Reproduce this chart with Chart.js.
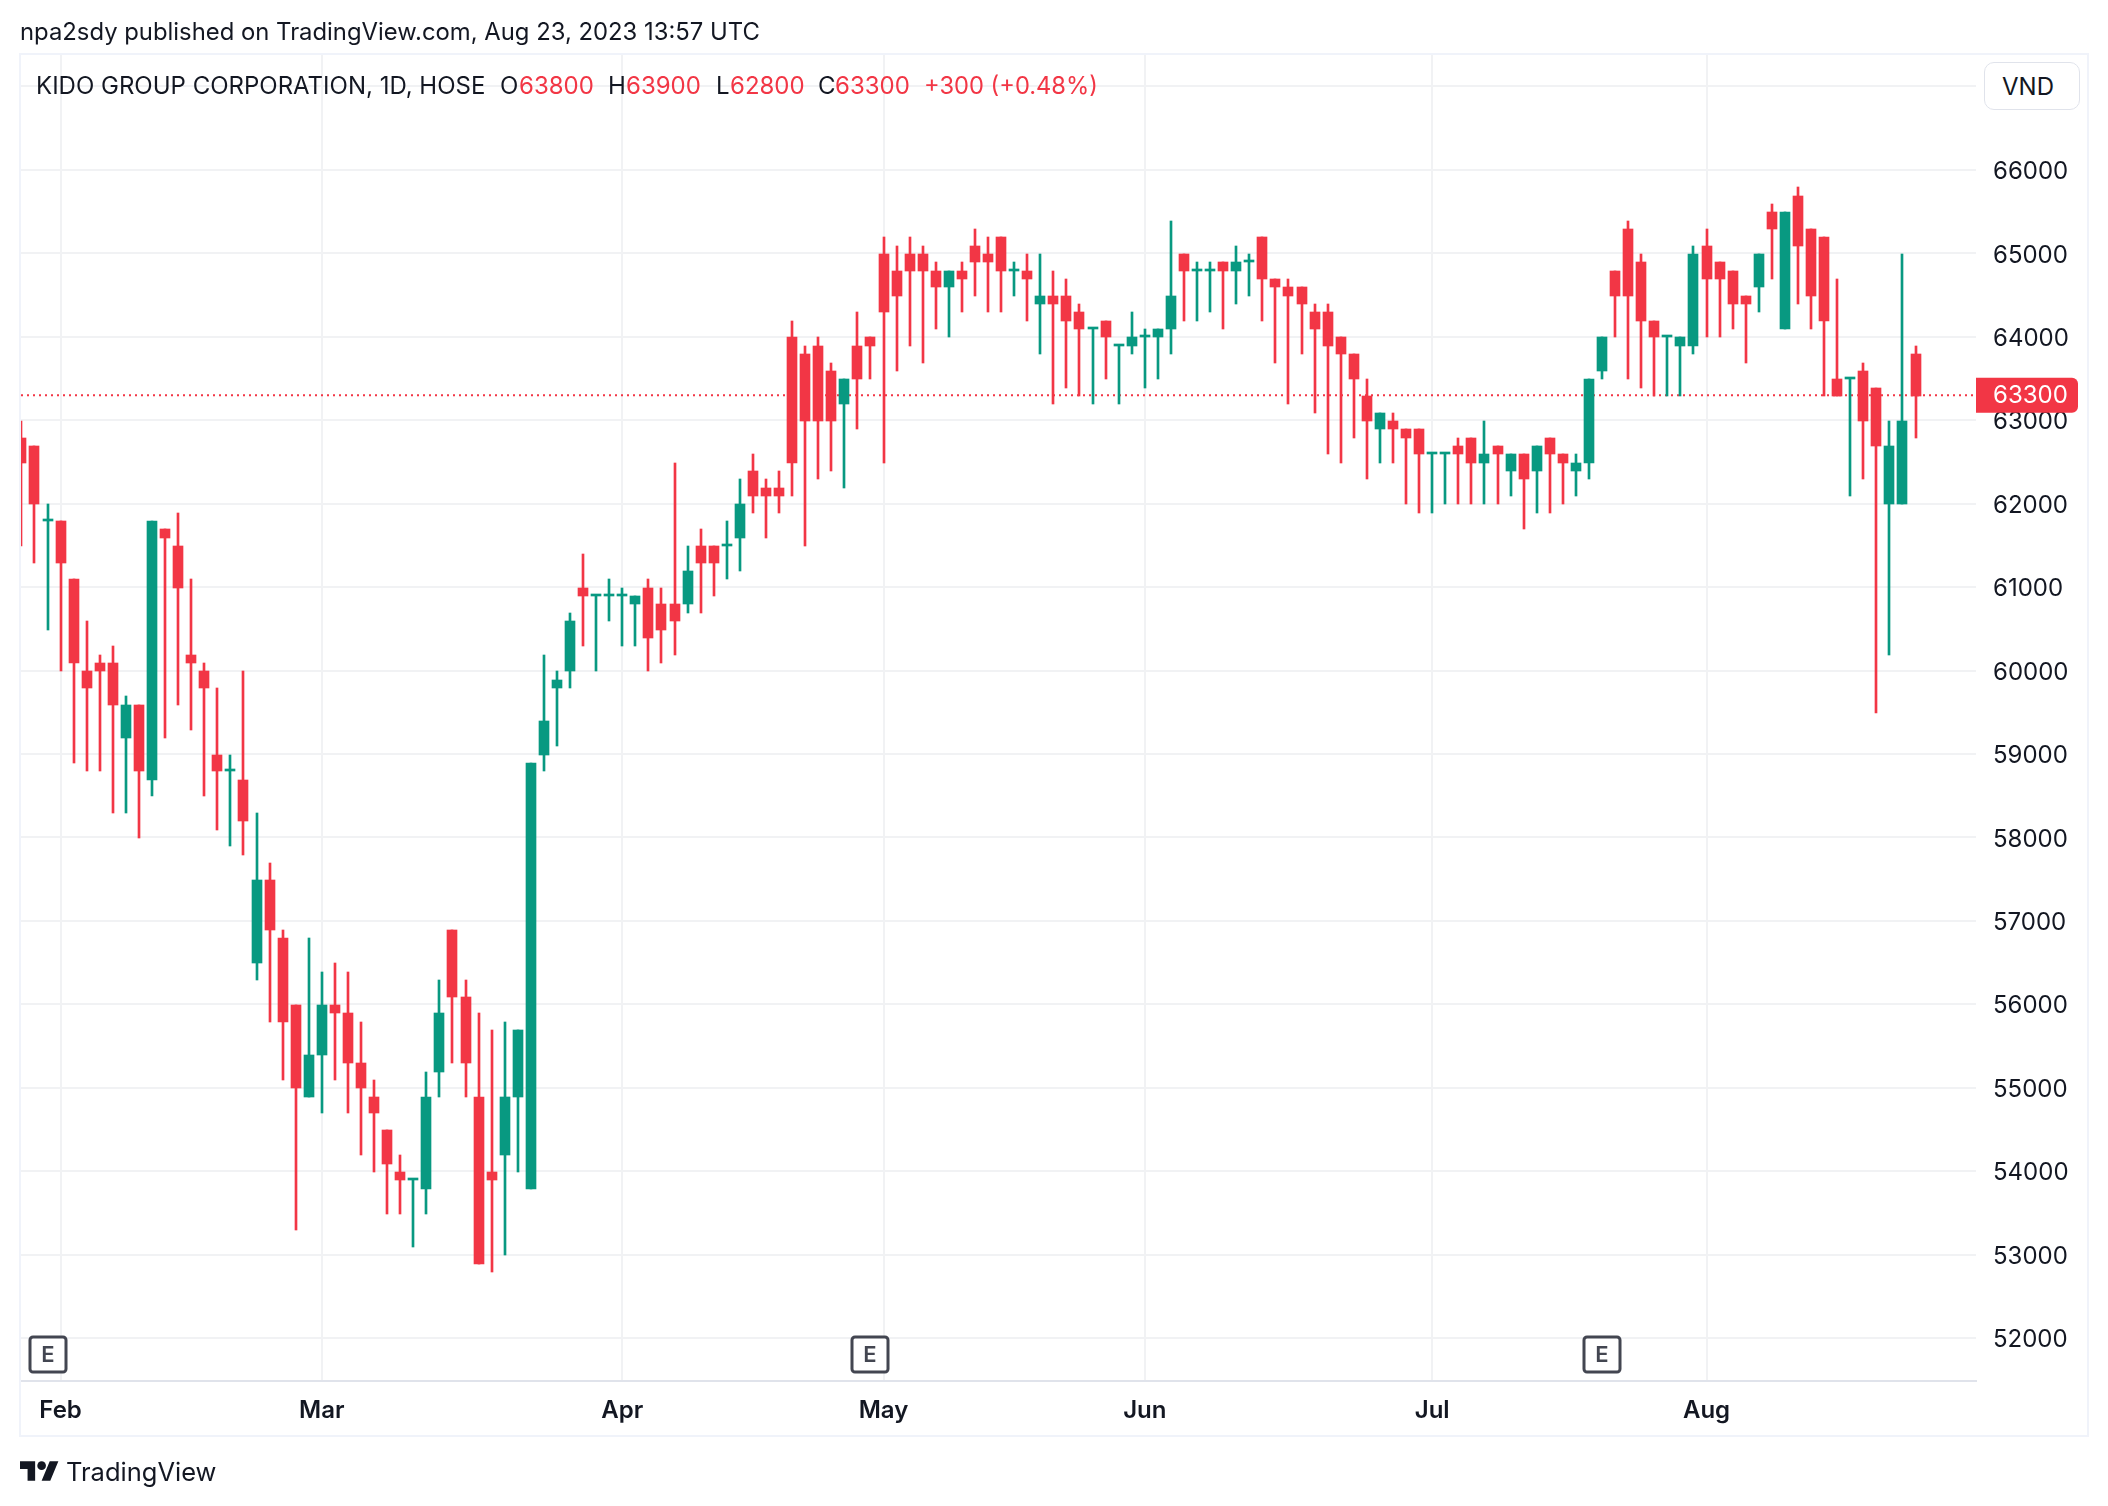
<!DOCTYPE html>
<html><head><meta charset="utf-8"><title>KIDO GROUP CORPORATION</title>
<script src="https://cdn.jsdelivr.net/npm/chart.js@4"></script>
<style>
html,body{margin:0;padding:0;background:#fff;width:2108px;height:1506px;overflow:hidden}
body{font-family:Inter,"Noto Sans",sans-serif;color:#131722;position:relative}
#c{position:absolute;left:0;top:0}
.frame{position:absolute;left:19px;top:53px;width:2066px;height:1380px;border:2px solid #F0F3FA;pointer-events:none}
.t{position:absolute;white-space:pre;font-size:24px;line-height:30px}
.r{color:#F23645}
.vnd{position:absolute;left:1984px;top:62px;width:94px;height:46px;border:1px solid #E0E3EB;border-radius:10px;background:#fff;text-align:center;font-size:24px;line-height:47px;text-indent:-8px}
.logo{position:absolute;left:20px;top:1457px}
</style></head><body>
<canvas id="c" width="2108" height="1506"></canvas>
<div class="frame"></div>
<div class="t" style="left:20px;top:17px;font-size:23.85px">npa2sdy published on TradingView.com, Aug 23, 2023 13:57 UTC</div>
<div class="t" style="left:36px;top:71px">KIDO GROUP CORPORATION, 1D, HOSE</div>
<div class="t" style="left:500px;top:71px">O</div><div class="t r" style="left:519px;top:71px">63800</div>
<div class="t" style="left:608px;top:71px">H</div><div class="t r" style="left:626px;top:71px">63900</div>
<div class="t" style="left:716px;top:71px">L</div><div class="t r" style="left:730px;top:71px">62800</div>
<div class="t" style="left:818px;top:71px">C</div><div class="t r" style="left:835px;top:71px">63300</div>
<div class="t r" style="left:924px;top:71px;font-size:23.7px">+300 (+0.48%)</div>
<div class="vnd">VND</div>
<svg class="logo" width="40" height="32" viewBox="0 0 37 29.6"><path fill="#131722" d="M14 22H7V11H0V4h14v18zM28 22h-8l7.5-18h8L28 22z"/><circle fill="#131722" cx="20" cy="8" r="4"/></svg>
<div class="t" style="left:66px;top:1457px;font-size:25.5px">TradingView</div>
<script>
const opens=[62800,62700,61800,61800,61100,60000,60100,60100,59200,59600,58700,61700,61500,60200,60000,59000,58800,58700,56500,57500,56800,56000,54900,55400,56000,55900,55300,54900,54500,54000,53900,53800,55200,56900,56100,54900,54000,54200,54900,53800,59000,59800,60000,61000,60900,60900,60900,60800,61000,60800,60800,60800,61500,61500,61500,61600,62400,62200,62200,64000,63800,63900,63600,63200,63900,64000,65000,64800,65000,65000,64800,64600,64800,65100,65000,65200,64800,64800,64400,64500,64500,64300,64100,64200,63900,63900,64000,64000,64100,65000,64800,64800,64900,64800,64900,65200,64700,64600,64600,64300,64300,64000,63800,63300,62900,63000,62900,62900,62600,62600,62700,62800,62500,62700,62400,62600,62400,62800,62600,62400,62500,63600,64800,65300,64900,64200,64000,63900,63900,65100,64900,64800,64500,64600,65500,64100,65700,65300,65200,63500,63500,63600,63400,62000,62000,63800];
const highs=[63000,62700,62000,61800,61100,60600,60200,60300,59700,59600,61800,61700,61900,61100,60100,59800,59000,60000,58300,57700,56900,56000,56800,56400,56500,56400,55800,55100,54500,54200,53900,55200,56300,56900,56300,55900,55700,55800,55700,58900,60200,60000,60700,61400,60900,61100,61000,60900,61100,61000,62500,61500,61700,61500,61800,62300,62600,62300,62400,64200,63900,64000,63700,63500,64300,64000,65200,65100,65200,65100,64900,64800,64900,65300,65200,65200,64900,65000,65000,64800,64700,64400,64100,64200,63900,64300,64100,64100,65400,65000,64900,64900,64900,65100,65000,65200,64700,64700,64600,64400,64400,64000,63800,63500,63100,63100,62900,62900,62600,62600,62800,62800,63000,62700,62600,62600,62700,62800,62600,62600,63500,64000,64800,65400,65000,64200,64000,64000,65100,65300,64900,64800,64500,65000,65600,65500,65800,65300,65200,64700,63500,63700,63400,63000,65000,63900];
const lows=[61500,61300,60500,60000,58900,58800,58800,58300,58300,58000,58500,59200,59600,59300,58500,58100,57900,57800,56300,55800,55100,53300,54900,54700,55100,54700,54200,54000,53500,53500,53100,53500,54900,55300,54900,52900,52800,53000,54000,53800,58800,59100,59800,60300,60000,60600,60300,60300,60000,60100,60200,60700,60700,60900,61100,61200,61900,61600,61900,62100,61500,62300,62400,62200,62900,63500,62500,63600,63900,63700,64100,64000,64300,64500,64300,64300,64500,64200,63800,63200,63400,63300,63200,63500,63200,63800,63400,63500,63800,64200,64200,64300,64100,64400,64500,64200,63700,63200,63800,63100,62600,62500,62800,62300,62500,62500,62000,61900,61900,62000,62000,62000,62000,62000,62100,61700,61900,61900,62000,62100,62300,63500,64000,63500,63400,63300,63300,63300,63800,64000,64000,64100,63700,64300,64700,64100,64400,64100,63300,63300,62100,62300,59500,60200,62000,62800];
const closes=[62500,62000,61800,61300,60100,59800,60000,59600,59600,58800,61800,61600,61000,60100,59800,58800,58800,58200,57500,56900,55800,55000,55400,56000,55900,55300,55000,54700,54100,53900,53900,54900,55900,56100,55300,52900,53900,54900,55700,58900,59400,59900,60600,60900,60900,60900,60900,60900,60400,60500,60600,61200,61300,61300,61500,62000,62100,62100,62100,62500,63000,63000,63000,63500,63500,63900,64300,64500,64800,64800,64600,64800,64700,64900,64900,64800,64800,64700,64500,64400,64200,64100,64100,64000,63900,64000,64000,64100,64500,64800,64800,64800,64800,64900,64900,64700,64600,64500,64400,64100,63900,63800,63500,63000,63100,62900,62800,62600,62600,62600,62600,62500,62600,62600,62600,62300,62700,62600,62500,62500,63500,64000,64500,64500,64200,64000,64000,64000,65000,64700,64700,64400,64400,65000,65300,65500,65100,64500,64200,63300,63500,63000,62700,62700,63000,63300];
const monthLabels=['Feb','Mar','Apr','May','Jun','Jul','Aug'];
const monthBars=[3,23,46,66,86,108,129];
const priceTicks=[52000,53000,54000,55000,56000,57000,58000,59000,60000,61000,62000,63000,64000,65000,66000,67000];
const earningsBars=[2,65,121];
const lastPrice=63300;

const RED='#F23645',GREEN='#089981',GRID='#F1F2F4',INK='#131722';
const XMIN=-0.03,XMAX=149.63,YMIN=51485,YMAX=67377;
const colors=opens.map((o,i)=>closes[i]>=o?GREEN:RED);
const bars=(a,b)=>a.map((v,i)=>({x:i,y:[v,b[i]]}));
Chart.defaults.font.family='Inter';

const snap={id:'snap',beforeDatasetsDraw(ch){
  ch.data.datasets.forEach((d,k)=>{ if(d.type==='line')return;
    ch.getDatasetMeta(k).data.forEach(el=>{el.x=Math.round(el.x);el.y=Math.round(el.y+0.7);el.base=Math.round(el.base+0.7);});
  });
}};
const marks={id:'marks',afterDraw(ch){
  const c=ch.ctx,a=ch.chartArea,xs=ch.scales.x,ys=ch.scales.y;
  c.save();
  earningsBars.forEach(i=>{
    const x=Math.round(xs.getPixelForValue(i)),y=a.bottom-27;
    c.beginPath();c.roundRect(x-18,y-17,36,35,3);
    c.fillStyle='#fff';c.fill();c.lineWidth=3;c.strokeStyle='#434651';c.stroke();
    c.fillStyle='#434651';c.font='600 22px Inter';c.textAlign='center';c.textBaseline='middle';
    c.fillText('E',x,y+1.5);
  });
  const py=ys.getPixelForValue(lastPrice);
  c.beginPath();c.roundRect(a.right,py-17.5,102,35,[0,6,6,0]);c.fillStyle=RED;c.fill();
  c.fillStyle='#fff';c.font='24px Inter';c.textAlign='left';c.textBaseline='middle';
  c.fillText(String(lastPrice),a.right+17,py+1);
  c.restore();
}};

new Chart(document.getElementById('c'),{
  type:'bar',
  data:{datasets:[
    {type:'bar',label:'body',data:bars(opens,closes),backgroundColor:colors,barThickness:10,grouped:false,minBarLength:2,order:1},
    {type:'bar',label:'wick',data:bars(lows,highs),backgroundColor:colors,barThickness:2,grouped:false,order:2},
    {type:'line',label:'last',data:[{x:XMIN,y:lastPrice},{x:XMAX,y:lastPrice}],borderColor:RED,borderWidth:2,borderDash:[2,4],pointRadius:0,order:3}
  ]},
  options:{
    responsive:false,animation:false,devicePixelRatio:1,
    layout:{padding:{left:21,top:55,right:21,bottom:71}},
    plugins:{legend:{display:false},tooltip:{enabled:false}},
    events:[],
    scales:{
      x:{type:'linear',min:XMIN,max:XMAX,offset:false,
        afterBuildTicks(s){s.ticks=monthBars.map(v=>({value:v}));},
        afterFit(s){s.height=54;},
        grid:{color:GRID,lineWidth:2,drawTicks:false,offset:false},
        border:{color:'#E0E3EB',width:2},
        ticks:{autoSkip:false,maxRotation:0,color:INK,padding:15,font:{family:'Inter',size:24,weight:'600'},
          callback(v){return monthLabels[monthBars.indexOf(v)];}}
      },
      y:{type:'linear',position:'right',min:YMIN,max:YMAX,
        afterBuildTicks(s){s.ticks=priceTicks.map(v=>({value:v}));},
        afterFit(s){s.width=111;},
        grid:{color:GRID,lineWidth:2,drawTicks:false},
        border:{display:false},
        ticks:{autoSkip:false,color:INK,padding:17,labelOffset:2,font:{family:'Inter',size:24},
          callback(v){return v===67000?'':String(v);}}
      }
    }
  },
  plugins:[snap,marks]
});
</script>
</body></html>
